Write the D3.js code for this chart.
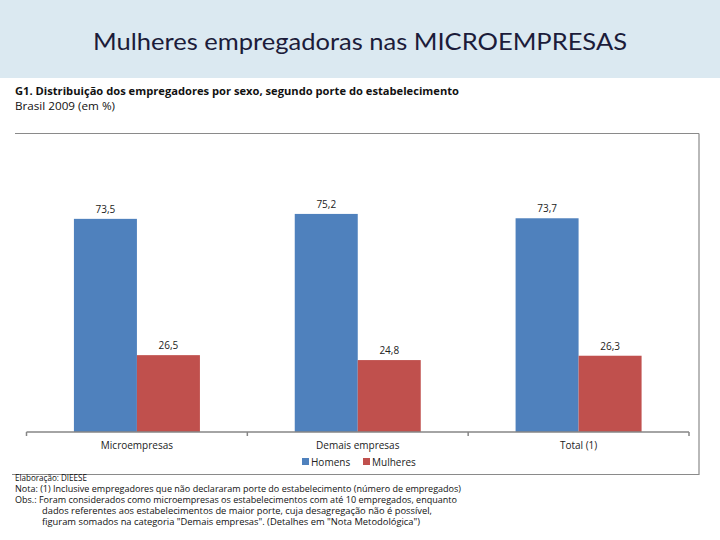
<!DOCTYPE html>
<html><head><meta charset="utf-8">
<script src="https://cdn.jsdelivr.net/npm/d3@7"></script>
<style>body{margin:0;background:#fff}svg{display:block}</style>
</head><body>
<script>
const categories = ["Microempresas", "Demais empresas", "Total (1)"];
const seriesNames = ["Homens", "Mulheres"];
const homens = [73.5, 75.2, 73.7];
const mulheres = [26.5, 24.8, 26.3];
const valueLabels = [["73,5", "75,2", "73,7"], ["26,5", "24,8", "26,3"]];
const colors = ["#4f81bd", "#c0504d"];
const notes = [
  "Elaboração: DIEESE",
  "Nota: (1) Inclusive empregadores que não declararam porte do estabelecimento (número de empregados)",
  "Obs.: Foram considerados como microempresas os estabelecimentos com até 10 empregados, enquanto",
  "dados referentes aos estabelecimentos de maior porte, cuja desagregação não é possível,",
  "figuram somados na categoria \"Demais empresas\". (Detalhes em \"Nota Metodológica\")"
];

const W = 720, H = 540;
const svg = d3.select("body").append("svg").attr("width", W).attr("height", H);
const font = "'Open Sans', 'DejaVu Sans', sans-serif";

// header band
svg.append("rect").attr("x", 0).attr("y", 0).attr("width", W).attr("height", 78).attr("fill", "#dbe9f1");
svg.append("text").attr("x", 360).attr("y", 50).attr("text-anchor", "middle")
  .attr("font-family", "Lato, 'Open Sans', sans-serif").attr("font-size", 24).attr("fill", "#1c1c3a")
  .attr("textLength", 534).attr("lengthAdjust", "spacingAndGlyphs")
  .text("Mulheres empregadoras nas MICROEMPRESAS");

// chart titles
svg.append("text").attr("x", 15).attr("y", 95).attr("font-family", font).attr("font-size", 11)
  .attr("font-weight", "bold").attr("fill", "#111")
  .attr("textLength", 444).attr("lengthAdjust", "spacingAndGlyphs")
  .text("G1. Distribuição dos empregadores por sexo, segundo porte do estabelecimento");
svg.append("text").attr("x", 15).attr("y", 110).attr("font-family", font).attr("font-size", 11)
  .attr("fill", "#111").attr("textLength", 100).attr("lengthAdjust", "spacingAndGlyphs")
  .text("Brasil 2009 (em %)");

// chart frame
const frame = svg.append("g").attr("stroke", "#8a8a8a").attr("stroke-width", 1.2).attr("fill", "none");
frame.append("line").attr("x1", 15).attr("x2", 699).attr("y1", 133.5).attr("y2", 133.5);
frame.append("line").attr("x1", 699).attr("x2", 699).attr("y1", 133.5).attr("y2", 475);
frame.append("line").attr("x1", 12).attr("x2", 699).attr("y1", 474.5).attr("y2", 474.5);

// scales
const x0 = d3.scaleBand().domain(categories).range([26.5, 689]).paddingInner(0).paddingOuter(0);
const x1 = d3.scaleBand().domain(seriesNames).range([0, 126]);
const y = d3.scaleLinear().domain([0, 80]).range([432, 200]);
const data = [homens, mulheres];

const groups = svg.append("g").selectAll("g").data(categories).join("g")
  .attr("transform", c => `translate(${x0(c) + (x0.bandwidth() - 126) / 2},0)`);

groups.each(function (c, i) {
  const g = d3.select(this);
  seriesNames.forEach((s, j) => {
    const v = data[j][i];
    g.append("rect").attr("x", x1(s)).attr("width", x1.bandwidth())
      .attr("y", y(v)).attr("height", y(0) - y(v)).attr("fill", colors[j]);
    g.append("text").attr("x", x1(s) + x1.bandwidth() / 2).attr("y", y(v) - 6)
      .attr("text-anchor", "middle").attr("font-family", font).attr("font-size", 10)
      .attr("fill", "#222").text(valueLabels[j][i]);
  });
});

// x axis
const axis = svg.append("g").attr("transform", "translate(0,432)")
  .call(d3.axisBottom(x0).tickSize(0).tickPadding(10));
axis.select(".domain").attr("stroke", "#868686").attr("stroke-width", 1.5)
  .attr("d", "M26.5,0H689");
axis.selectAll(".tick text").attr("font-family", font).attr("font-size", 10).attr("fill", "#222");
const bounds = [26.5, ...categories.map(c => x0(c) + x0.bandwidth())];
axis.selectAll(".bt").data(bounds).join("line").attr("class", "bt")
  .attr("x1", d => d).attr("x2", d => d).attr("y1", 0).attr("y2", 4)
  .attr("stroke", "#868686").attr("stroke-width", 1.5);

// legend
const legend = svg.append("g").attr("font-family", font).attr("font-size", 10).attr("fill", "#222");
const legX = [302, 363];
seriesNames.forEach((s, j) => {
  legend.append("rect").attr("x", legX[j]).attr("y", 458).attr("width", 7).attr("height", 7).attr("fill", colors[j]);
  legend.append("text").attr("x", legX[j] + 9).attr("y", 465.5).text(s);
});

// notes
const noteG = svg.append("g").attr("font-family", font).attr("font-size", 8.5).attr("fill", "#111");
const noteY = [481, 492, 503, 514, 525];
const noteX = [15, 15, 15, 42, 42];
const noteLen = [72, 446, 442, 390, 378];
notes.forEach((t, i) => {
  noteG.append("text").attr("x", noteX[i]).attr("y", noteY[i])
    .attr("textLength", noteLen[i]).attr("lengthAdjust", "spacingAndGlyphs").text(t);
});
</script>
</body></html>
